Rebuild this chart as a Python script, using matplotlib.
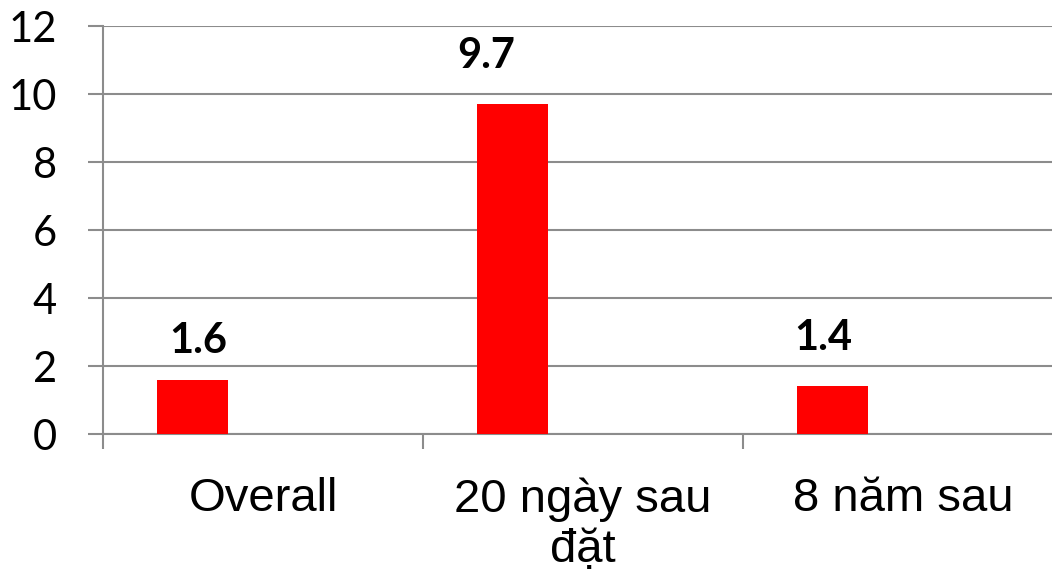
import numpy as np
import matplotlib
matplotlib.use("Agg")
import matplotlib.pyplot as plt
from matplotlib.ticker import FixedLocator

# data
categories = ["Overall", "20 ngày sau\nđặt", "8 năm sau"]
values = [1.6, 9.7, 1.4]
value_labels = ["1.6", "9.7", "1.4"]
yticks = [0, 2, 4, 6, 8, 10, 12]

# label nudges (pixels) as placed by hand in the original
label_dx = [5.5, -26.5, -9.5]
label_dy = [27, 36, 36]

px = 72 / 100.0
grey = "#8c8c8c"

fig = plt.figure(figsize=(10.52, 5.71), dpi=100)
# axes runs a bit past the right edge, like the original
ax = fig.add_axes([103 / 1052, (571 - 434) / 571, 960 / 1052, (434 - 26) / 571])

x = np.arange(len(categories))
bar_w = 71 / 320
ax.bar(x - 0.22, values, width=bar_w, color="#ff0000", zorder=3)

for i, v in enumerate(values):
    ax.annotate(value_labels[i], xy=(x[i] - 0.22, v),
                xytext=(label_dx[i] * px, label_dy[i] * px), textcoords="offset points",
                ha="center", va="baseline", fontsize=30, fontweight="bold",
                family="Lato", color="black")

ax.set_xlim(-0.5, 2.5)
ax.set_ylim(0, 12)
ax.set_yticks(yticks)
ax.set_yticklabels([str(t) for t in yticks], family="Lato", fontsize=30)
ax.yaxis.grid(True, color=grey, linewidth=1.5, zorder=0)

ax.set_xticks(x)
ax.set_xticklabels(categories, family="Liberation Sans", fontsize=34, linespacing=1.2)
ax.xaxis.set_minor_locator(FixedLocator([-0.5, 0.5, 1.5, 2.5]))
ax.tick_params(axis="x", which="major", length=0, pad=31)
ax.tick_params(axis="x", which="minor", length=15 * px, width=1.5, color=grey, direction="out")
ax.tick_params(axis="y", length=15 * px, width=1.5, color=grey, pad=31 * px)

for s in ["top", "right"]:
    ax.spines[s].set_visible(False)
for s in ["left", "bottom"]:
    ax.spines[s].set_color(grey)
    ax.spines[s].set_linewidth(1.5)

fig.savefig("out.png", dpi=100)
